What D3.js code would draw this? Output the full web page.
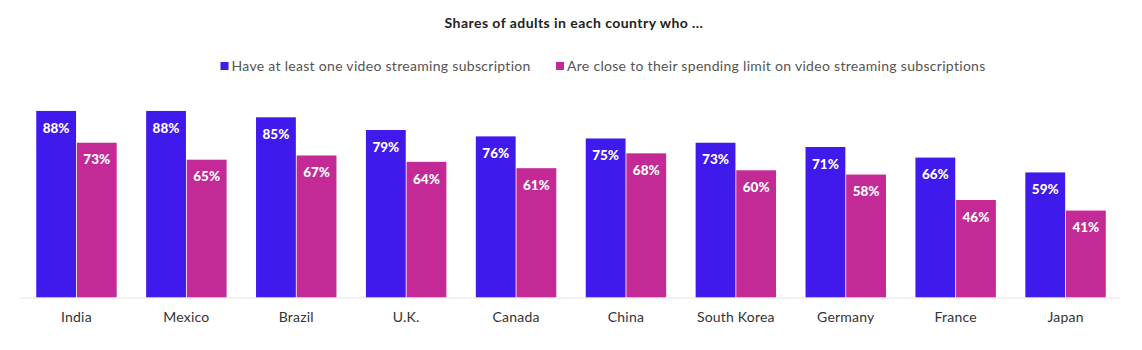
<!DOCTYPE html>
<html>
<head>
<meta charset="utf-8">
<script src="https://cdn.jsdelivr.net/npm/d3@7"></script>
<style>
  body { margin: 0; background: #fff; }
  svg { font-family: "Lato", "Noto Sans", sans-serif; }
  .title { font-weight: 700; font-size: 14px; letter-spacing: 0.45px; fill: #222; }
  .legend_text { font-size: 14px; letter-spacing: 0.3px; fill: #555; }
  .axis_label { font-size: 14px; letter-spacing: 0.2px; fill: #333; }
  .bar_label { font-weight: 900; font-size: 13.5px; fill: #fff; }
</style>
</head>
<body>
<svg id="chart" width="1142" height="350"></svg>
<script>
var countries = ["India", "Mexico", "Brazil", "U.K.", "Canada", "China", "South Korea", "Germany", "France", "Japan"];
var haveSubscription = [88, 88, 85, 79, 76, 75, 73, 71, 66, 59];
var closeToLimit = [73, 65, 67, 64, 61, 68, 60, 58, 46, 41];
var seriesNames = ["Have at least one video streaming subscription", "Are close to their spending limit on video streaming subscriptions"];
var seriesColors = ["#4019ec", "#c42a96"];

function build_chart() {
    var svg = d3.select("#chart");
    const margins = {top: 85.5, bottom: 297.5, left: 21.5, right: 1120.5};

    svg.append("text")
        .attr("class", "title")
        .attr("x", 574)
        .attr("y", 27.5)
        .attr("text-anchor", "middle")
        .text("Shares of adults in each country who ...");

    // legend
    var legendX = [220.5, 556];
    seriesNames.forEach(function(name, i) {
        var g = svg.append("g").attr("transform", "translate(" + legendX[i] + ",62)");
        g.append("rect").attr("width", 8).attr("height", 8).attr("fill", seriesColors[i]);
        g.append("text").attr("class", "legend_text")
            .attr("x", 11).attr("y", 4).attr("dy", "0.35em")
            .text(name);
    });

    var x = d3.scaleBand()
        .domain(countries)
        .range([margins.left, margins.right])
        .paddingInner(0.268)
        .paddingOuter(0.134);

    var xInner = d3.scaleBand()
        .domain([0, 1])
        .range([0, x.bandwidth()])
        .paddingInner(0.02);

    var y = d3.scaleLinear()
        .domain([0, 100])
        .range([margins.bottom, margins.top]);

    var rows = countries.map(function(c, i) {
        return {country: c, values: [haveSubscription[i], closeToLimit[i]]};
    });

    var groups = svg.append("g").selectAll("g.group")
        .data(rows).enter()
        .append("g").classed("group", true)
        .attr("transform", d => "translate(" + x(d.country) + ",0)");

    var bars = groups.selectAll("g.bar")
        .data(d => d.values.map((v, i) => ({value: v, series: i})))
        .enter().append("g").classed("bar", true);

    bars.append("rect")
        .attr("x", d => xInner(d.series))
        .attr("y", d => y(d.value))
        .attr("width", xInner.bandwidth())
        .attr("height", d => y(0) - y(d.value))
        .attr("fill", d => seriesColors[d.series]);

    bars.append("text")
        .attr("class", "bar_label")
        .attr("x", d => xInner(d.series) + xInner.bandwidth() / 2)
        .attr("y", d => y(d.value) + 17)
        .attr("dy", "0.35em")
        .attr("text-anchor", "middle")
        .text(d => d.value + "%");

    // baseline
    svg.append("line")
        .attr("x1", 20).attr("x2", 1120)
        .attr("y1", y(0) + 0.5).attr("y2", y(0) + 0.5)
        .attr("stroke", "#e4e4e4")
        .attr("stroke-width", 1);

    svg.append("g").selectAll("text.axis_label")
        .data(countries).enter()
        .append("text")
        .attr("class", "axis_label")
        .attr("x", d => x(d) + x.bandwidth() / 2)
        .attr("y", 317)
        .attr("dy", "0.35em")
        .attr("text-anchor", "middle")
        .text(d => d);
}

build_chart();
</script>
</body>
</html>
